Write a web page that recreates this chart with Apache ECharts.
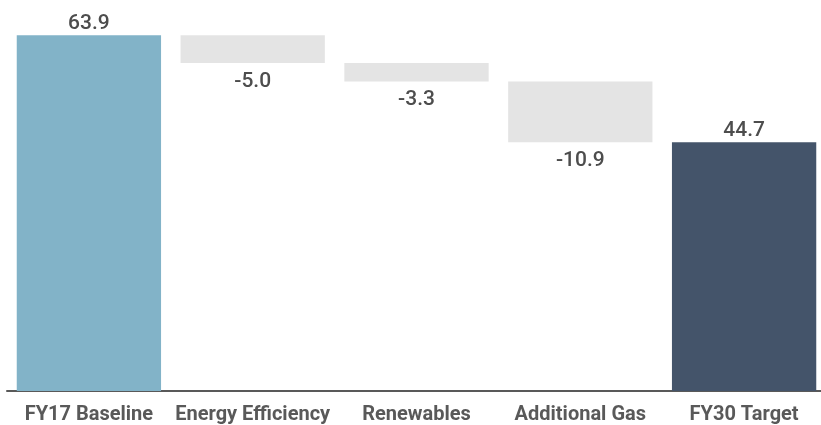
<!DOCTYPE html>
<html>
<head>
<meta charset="utf-8">
<script src="https://cdn.jsdelivr.net/npm/echarts@6/dist/echarts.min.js"></script>
<style>
  html, body { margin: 0; padding: 0; background: #ffffff; overflow: hidden; }
  #chart { width: 826px; height: 425px; }
</style>
</head>
<body>
<div id="chart"></div>
<script>
// Emissions bridge: FY17 baseline, reductions, FY30 target
const categories = ['FY17 Baseline', 'Energy Efficiency', 'Renewables', 'Additional Gas', 'FY30 Target'];
const baselineValue = 63.9;
const stepChanges = [-5.0, -3.3, -10.9];
const targetValue = 44.7;

// Build the invisible offsets and visible bar heights for the waterfall
const offsets = [];
const heights = [];
const labels = [];
const colors = [];
offsets.push(0); heights.push(baselineValue); labels.push(baselineValue.toFixed(1)); colors.push('#82b3c8');
let running = baselineValue;
stepChanges.forEach(function (d) {
  const next = running + d;
  offsets.push(Math.min(running, next));
  heights.push(Math.abs(d));
  labels.push(d.toFixed(1));
  colors.push('#e4e4e4');
  running = next;
});
offsets.push(0); heights.push(targetValue); labels.push(targetValue.toFixed(1)); colors.push('#44546a');

const chart = echarts.init(document.getElementById('chart'), null, { renderer: 'canvas' });
chart.setOption({
  animation: false,
  grid: { left: 7, right: 0, top: 1.3, bottom: 24.5, containLabel: false },
  xAxis: {
    type: 'category',
    data: categories,
    axisLine: { lineStyle: { color: '#595959', width: 2 } },
    axisTick: { show: false },
    axisLabel: {
      color: '#595959',
      fontFamily: 'Roboto',
      fontWeight: 'bold',
      fontSize: 20,
      margin: 14,
      interval: 0
    }
  },
  yAxis: {
    type: 'value',
    min: 0,
    max: 70,
    show: false,
    splitLine: { show: false }
  },
  series: [
    {
      type: 'bar',
      stack: 'bridge',
      data: offsets,
      itemStyle: { color: 'transparent' },
      barCategoryGap: '11.9%',
      silent: true
    },
    {
      type: 'bar',
      stack: 'bridge',
      data: heights.map(function (h, i) {
        const isStep = i > 0 && i < categories.length - 1;
        return {
          value: h,
          itemStyle: { color: colors[i] },
          label: {
            show: true,
            position: isStep ? 'bottom' : 'top',
            distance: isStep ? 8 : 1,
            formatter: labels[i],
            color: '#4d4d4d',
            fontFamily: 'Roboto',
            fontWeight: 500,
            fontSize: 21
          }
        };
      }),
      barCategoryGap: '11.9%'
    }
  ]
});
</script>
</body>
</html>
